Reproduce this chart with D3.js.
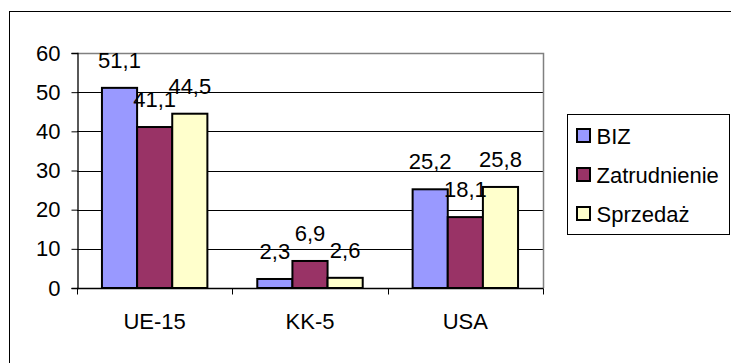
<!DOCTYPE html>
<html>
<head>
<meta charset="utf-8">
<script src="https://cdn.jsdelivr.net/npm/d3@7"></script>
<style>
  html, body { margin: 0; padding: 0; background: #fff; }
  svg { display: block; font-family: "Liberation Sans", Arial, sans-serif; }
</style>
</head>
<body>
<svg id="chart" width="731" height="363"></svg>
<script>
// Regions and series
const categories = ["UE-15", "KK-5", "USA"];
const seriesNames = ["BIZ", "Zatrudnienie", "Sprzedaż"];
const seriesColors = ["#9999FF", "#993366", "#FFFFCC"];
const valuesBIZ = [51.1, 2.3, 25.2];
const valuesZatrudnienie = [41.1, 6.9, 18.1];
const valuesSprzedaz = [44.5, 2.6, 25.8];
const yTicks = [0, 10, 20, 30, 40, 50, 60];

const series = [valuesBIZ, valuesZatrudnienie, valuesSprzedaz];
const fmt = v => String(v).replace(".", ",");

const svg = d3.select("#chart");
const fontSize = 22;

// Outer chart frame (runs off the right and bottom edge)
svg.append("rect")
  .attr("x", 9.5).attr("y", 11.5)
  .attr("width", 760).attr("height", 400)
  .attr("fill", "#fff").attr("stroke", "#000").attr("stroke-width", 1);

const plot = { left: 77, right: 543, top: 53, bottom: 288 };

const x = d3.scaleBand().domain(categories).range([plot.left, plot.right]);
const x1 = d3.scaleBand().domain(d3.range(seriesNames.length))
  .range([0, x.bandwidth()]).paddingOuter(0.71).paddingInner(0);
const y = d3.scaleLinear().domain([0, 60]).range([plot.bottom, plot.top]);

// Horizontal gridlines
svg.append("g").selectAll("line").data(yTicks.filter(t => t > 0 && t < 60)).join("line")
  .attr("x1", plot.left).attr("x2", plot.right)
  .attr("y1", d => Math.round(y(d)) + 0.5).attr("y2", d => Math.round(y(d)) + 0.5)
  .attr("stroke", "#000").attr("stroke-width", 1);

// Plot area border (top and right)
svg.append("path")
  .attr("d", `M${plot.left},${Math.round(y(60)) + 0.5}H${plot.right + 0.5}V${plot.bottom}`)
  .attr("fill", "none").attr("stroke", "#808080").attr("stroke-width", 1.5);

// Bars
const groups = svg.append("g").selectAll("g").data(categories).join("g")
  .attr("transform", c => `translate(${x(c)},0)`);

groups.selectAll("rect").data((c, i) => series.map((s, k) => ({ k, v: s[i] }))).join("rect")
  .attr("x", d => x1(d.k))
  .attr("width", x1.bandwidth())
  .attr("y", d => y(d.v))
  .attr("height", d => y(0) - y(d.v))
  .attr("fill", d => seriesColors[d.k])
  .attr("stroke", "#000").attr("stroke-width", 2);

// Value labels
groups.selectAll("text").data((c, i) => series.map((s, k) => ({ k, v: s[i] }))).join("text")
  .attr("x", d => x1(d.k) + x1.bandwidth() / 2)
  .attr("y", d => y(d.v) - 20)
  .attr("text-anchor", "middle")
  .attr("font-size", fontSize)
  .attr("fill", "#000")
  .text(d => fmt(d.v));

// Y axis
const yAxis = svg.append("g")
  .attr("transform", `translate(${plot.left + 0.5},0)`)
  .call(d3.axisLeft(y).tickValues(yTicks).tickSize(6).tickPadding(11).tickFormat(d => d));
yAxis.select(".domain").attr("stroke", "#000").attr("stroke-width", 1.3);
yAxis.selectAll(".tick line").attr("stroke", "#000");
yAxis.selectAll(".tick text")
  .attr("font-size", fontSize).attr("font-family", "Liberation Sans, Arial, sans-serif")
  .attr("fill", "#000");

// X axis with boundary ticks between categories
const xAxis = svg.append("g").attr("transform", `translate(0,${plot.bottom + 0.5})`);
xAxis.append("line")
  .attr("x1", plot.left).attr("x2", plot.right + 0.5)
  .attr("stroke", "#000").attr("stroke-width", 1.3);
const bounds = categories.map(c => x(c)).concat([x(categories[categories.length - 1]) + x.bandwidth()]);
xAxis.selectAll("line.b").data(bounds).join("line").attr("class", "b")
  .attr("x1", d => Math.round(d) + 0.5).attr("x2", d => Math.round(d) + 0.5)
  .attr("y1", 0).attr("y2", 6)
  .attr("stroke", "#000");
xAxis.selectAll("text").data(categories).join("text")
  .attr("x", c => x(c) + x.bandwidth() / 2)
  .attr("y", 40)
  .attr("text-anchor", "middle")
  .attr("font-size", fontSize)
  .attr("fill", "#000")
  .text(c => c);

// Legend
const legend = svg.append("g").attr("transform", "translate(567.5,114.5)");
legend.append("rect")
  .attr("width", 162).attr("height", 120)
  .attr("fill", "#fff").attr("stroke", "#000").attr("stroke-width", 1);
const items = legend.selectAll("g").data(seriesNames).join("g")
  .attr("transform", (d, i) => `translate(0,${21 + i * 39})`);
items.append("rect")
  .attr("x", 9.5).attr("y", -6.5).attr("width", 13).attr("height", 13)
  .attr("fill", (d, i) => seriesColors[i])
  .attr("stroke", "#000").attr("stroke-width", 2);
items.append("text")
  .attr("x", 29).attr("y", 8)
  .attr("font-size", fontSize)
  .attr("fill", "#000")
  .text(d => d);
</script>
</body>
</html>
